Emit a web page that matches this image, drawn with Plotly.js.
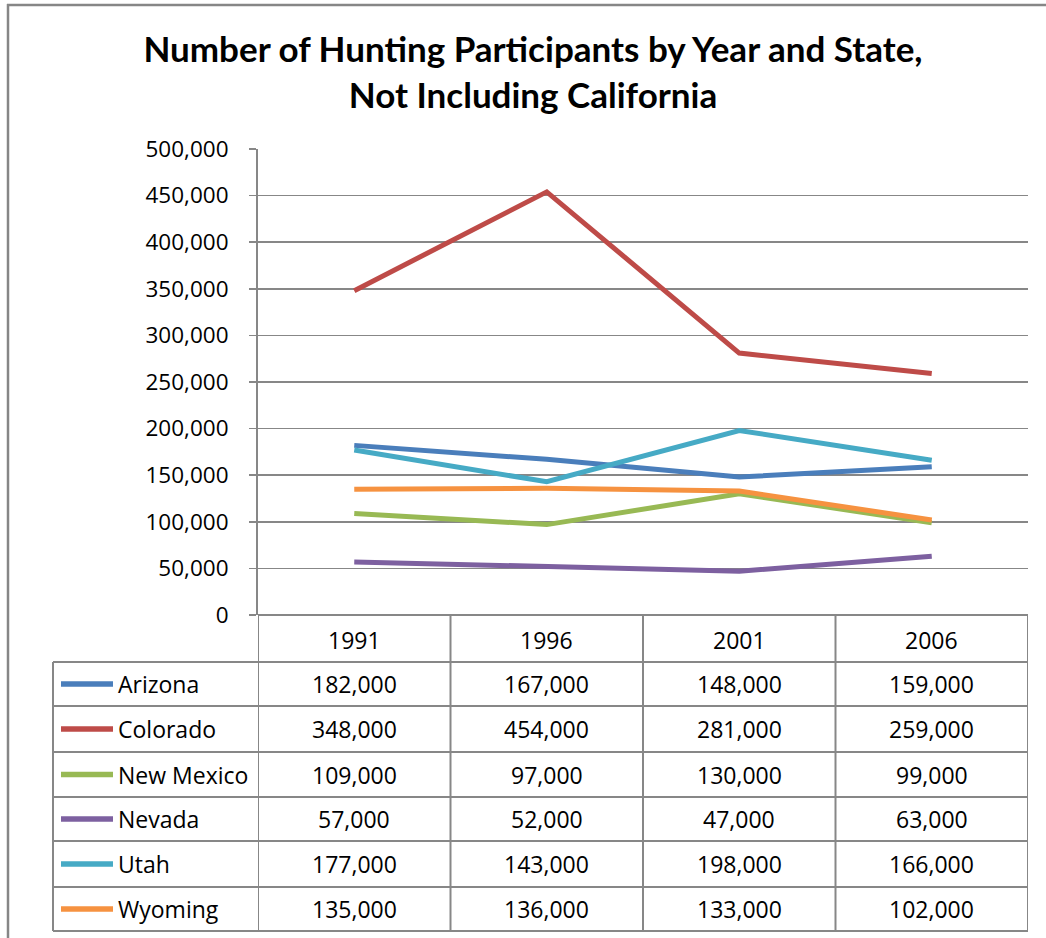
<!DOCTYPE html>
<html><head><meta charset="utf-8">
<script src="https://cdn.plot.ly/plotly-3.0.1.min.js"></script>
<style>body{margin:0;background:#fff}#chart{width:1046px;height:938px}</style>
</head><body><div id="chart"></div>
<script>
// ---- data ----
const years = ['1991', '1996', '2001', '2006'];
const states = ['Arizona', 'Colorado', 'New Mexico', 'Nevada', 'Utah', 'Wyoming'];
const arizona = [182000, 167000, 148000, 159000];
const colorado = [348000, 454000, 281000, 259000];
const newMexico = [109000, 97000, 130000, 99000];
const nevada = [57000, 52000, 47000, 63000];
const utah = [177000, 143000, 198000, 166000];
const wyoming = [135000, 136000, 133000, 102000];
const seriesValues = [arizona, colorado, newMexico, nevada, utah, wyoming];
const colors = ['#4A7EBB', '#BE4B48', '#98B954', '#7D60A0', '#46AAC5', '#F69240'];

// ---- layout geometry (pixels) ----
const W = 1046, H = 938;
const L = 258, R = 18, T = 149, B = 323;
const PW = W - L - R, PH = H - T - B;
const px = p => (p - L) / PW;
const py = p => (T + PH - p) / PH;
const gray = '#878787';
const FONT = '"Open Sans", "Noto Sans", sans-serif';
const rowEdges = [662, 706, 752, 797, 841, 887, 931];
const headerY = 640;
const TS = 23;

const traces = states.map((s, i) => ({
  type: 'scatter', mode: 'lines', name: s,
  x: years, y: seriesValues[i],
  line: {color: colors[i], width: 5},
  hoverinfo: 'x+y+name'
}));

const shapes = [];
const annotations = [];
function hline(y, x0, x1, w, c) {
  shapes.push({type: 'line', xref: 'paper', yref: 'paper', x0: px(x0), x1: px(x1), y0: py(y), y1: py(y), line: {color: c || gray, width: w || 2}});
}
function vlinePx(x, y0, y1, w, c) {
  shapes.push({type: 'line', xref: 'paper', yref: 'paper', x0: px(x), x1: px(x), y0: py(y0), y1: py(y1), line: {color: c || gray, width: w || 2}});
}
// outer chart border (left & top)
vlinePx(8, 4, 945, 2.5, '#868686');
hline(5, 7, 1050, 2.5, '#868686');
// table verticals: category boundaries through the x scale
for (let i = -1; i < years.length; i++) {
  shapes.push({type: 'line', xref: 'x', yref: 'paper', x0: i + 0.5, x1: i + 0.5, y0: py(615), y1: py(rowEdges[rowEdges.length - 1]), line: {color: gray, width: 2}});
}
vlinePx(53, rowEdges[0], rowEdges[rowEdges.length - 1], 2);
rowEdges.forEach(y => hline(y, 53, 1028, 2));

// header years (category index on the x scale)
years.forEach((yr, j) => annotations.push({xref: 'x', yref: 'paper', x: j, y: py(headerY), text: yr, showarrow: false, xanchor: 'center', yanchor: 'middle', font: {family: FONT, size: TS, color: '#000'}}));
// rows
const fmt = v => v.toLocaleString('en-US');
states.forEach((s, i) => {
  const cy = (rowEdges[i] + rowEdges[i + 1]) / 2;
  shapes.push({type: 'line', xref: 'paper', yref: 'paper', x0: px(61), x1: px(113), y0: py(cy), y1: py(cy), line: {color: colors[i], width: 5.5}});
  annotations.push({xref: 'paper', yref: 'paper', x: px(116), y: py(cy), text: s, showarrow: false, xanchor: 'left', yanchor: 'middle', font: {family: FONT, size: TS, color: '#000'}});
  seriesValues[i].forEach((v, j) => annotations.push({xref: 'x', yref: 'paper', x: j, y: py(cy), text: fmt(v), showarrow: false, xanchor: 'center', yanchor: 'middle', font: {family: FONT, size: TS, color: '#000'}}));
});

const layout = {
  width: W, height: H,
  margin: {l: L, r: R, t: T, b: B, pad: 0},
  paper_bgcolor: '#fff', plot_bgcolor: '#fff',
  showlegend: false,
  title: {
    text: '<b>Number of Hunting Participants by Year and State,<br>Not Including California</b>',
    xref: 'container', yref: 'container', x: 533 / W, xanchor: 'center', y: 1 - 62 / H, yanchor: 'middle',
    font: {family: 'Lato, "Open Sans", sans-serif', size: 35, color: '#000'}
  },
  xaxis: {type: 'category', range: [-0.5, 3.5], showgrid: false, zeroline: false, showline: false, showticklabels: false, ticks: '', fixedrange: true},
  yaxis: {
    range: [0, 500000], dtick: 50000, tick0: 0, tickformat: ',d',
    showgrid: true, gridcolor: gray, gridwidth: 1.5,
    zeroline: true, zerolinecolor: gray, zerolinewidth: 1.5,
    showline: true, linecolor: gray, linewidth: 2,
    ticks: 'outside', ticklen: 7, tickcolor: gray, tickwidth: 1.5,
    ticklabelstandoff: 16,
    tickfont: {family: FONT, size: 22.5, color: '#000'}, fixedrange: true
  },
  shapes: shapes,
  annotations: annotations
};
Plotly.newPlot('chart', traces, layout, {displayModeBar: false, staticPlot: true});
</script>
</body></html>
